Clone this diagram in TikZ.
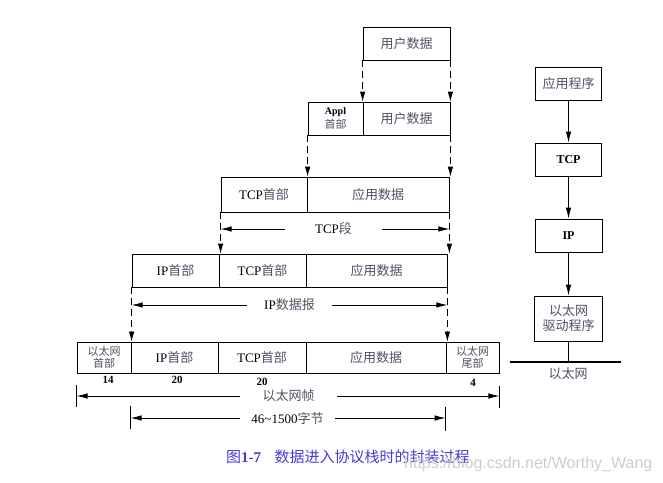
\documentclass[tikz,border=0pt]{standalone}
\usepackage{fontspec}
\setmainfont{Liberation Serif}
\newfontfamily\cjk{Noto Sans CJK SC}
\newfontfamily\wmfont{Liberation Sans}
\usetikzlibrary{arrows.meta}
\definecolor{zhcol}{RGB}{80,80,100}
\definecolor{capcol}{RGB}{70,60,215}
\definecolor{wmcol}{RGB}{205,205,205}
\newcommand{\zh}[1]{{\cjk\color{zhcol}#1}}
\begin{document}
\begin{tikzpicture}[x=1pt,y=-1pt,
  cell/.style={draw, line width=0.8pt, inner sep=0pt, align=center, font=\fontsize{13}{15}\selectfont},
  small/.style={font=\fontsize{11}{12.5}\selectfont},
  dashar/.style={line width=0.8pt, dash pattern=on 7pt off 4pt, -{Latex[length=10pt,width=5.5pt]}},
  dimar/.style={line width=0.8pt, -{Latex[length=11pt,width=5.5pt]}},
  solidar/.style={line width=0.8pt, -{Latex[length=11pt,width=5.5pt]}},
  dimlab/.style={inner sep=0pt, minimum height=14pt, font=\fontsize{13}{15}\selectfont},
  num/.style={inner sep=0pt, font=\bfseries\fontsize{11}{12}\selectfont},
  tickln/.style={line width=0.8pt}]
\useasboundingbox (0,0) rectangle (663,482);

% Row 1
\node[cell, minimum width=87, minimum height=33] (u1) at (406.5,43.5) {\zh{用户数据}};
% Row 2
\node[cell, minimum width=55, minimum height=33] (a2) at (335.5,118.5)
  {\fontsize{10}{10}\selectfont\bfseries Appl\\[-1pt]\fontsize{11}{11}\selectfont\zh{首部}};
\node[cell, minimum width=87, minimum height=33] (u2) at (406.5,118.5) {\zh{用户数据}};
% Row 3
\node[cell, minimum width=86, minimum height=35] (t3) at (264,194.5) {TCP\zh{首部}};
\node[cell, minimum width=142, minimum height=35] (d3) at (378,194.5) {\zh{应用数据}};
% Row 4
\node[cell, minimum width=87, minimum height=33] (i4) at (175.5,270.5) {IP\zh{首部}};
\node[cell, minimum width=87, minimum height=33] (t4) at (262.5,270.5) {TCP\zh{首部}};
\node[cell, minimum width=141, minimum height=33] (d4) at (376.5,270.5) {\zh{应用数据}};
% Row 5
\node[cell, small, minimum width=54, minimum height=31] (e5) at (104,357.5) {\zh{以太网}\\\zh{首部}};
\node[cell, minimum width=87, minimum height=31] (i5) at (174.5,357.5) {IP\zh{首部}};
\node[cell, minimum width=88, minimum height=31] (t5) at (262,357.5) {TCP\zh{首部}};
\node[cell, minimum width=140, minimum height=31] (d5) at (376,357.5) {\zh{应用数据}};
\node[cell, small, minimum width=53, minimum height=31] (f5) at (472.5,357.5) {\zh{以太网}\\\zh{尾部}};

% numbers
\node[num] (n14) at (108,380) {14};
\node[num] (n20a) at (177,380) {20};
\node[num] (n20b) at (262,382) {20};
\node[num] (n4) at (473,383) {4};

% dashed arrows
\draw[dashar] (u1.south west) -- (u2.north west);
\draw[dashar] (u1.south east) -- (u2.north east);
\draw[dashar] (a2.south west) -- (a2.south west |- t3.north);
\draw[dashar] (u2.south east) -- (u2.south east |- d3.north);
\draw[dashar] (t3.south west) -- (t3.south west |- i4.north);
\draw[dashar] (d3.south east) -- (d3.south east |- d4.north);
\draw[dashar] (i4.south west) -- (i4.south west |- e5.north);
\draw[dashar] (d4.south east) -- (d4.south east |- f5.north);

% dimension lines
\node[dimlab, minimum width=97] (tcpseg) at (333.5,229) {TCP\zh{段}};
\draw[dimar] (tcpseg.west) -- (tcpseg.west -| t3.south west);
\draw[dimar] (tcpseg.east) -- (tcpseg.east -| d3.south east);

\node[dimlab, minimum width=85] (ipdg) at (289.5,305) {IP\zh{数据报}};
\draw[dimar] (ipdg.west) -- (ipdg.west -| i4.south west);
\draw[dimar] (ipdg.east) -- (ipdg.east -| d4.south east);

\node[dimlab, minimum width=97] (ethfr) at (288.5,396) {\zh{以太网帧}};
\draw[dimar] (ethfr.west) -- (ethfr.west -| e5.south west);
\draw[dimar] (ethfr.east) -- (ethfr.east -| f5.south east);
\draw[tickln] (ethfr.west -| e5.south west) ++(0,-11) -- ++(0,22);
\draw[tickln] (ethfr.east -| f5.south east) ++(0,-10) -- ++(0,22);

\node[dimlab, minimum width=95] (pay) at (287.5,418) {46\textasciitilde1500\zh{字节}};
\draw[dimar] (pay.west) -- (pay.west -| i5.south west);
\draw[dimar] (pay.east) -- (pay.east -| f5.south west);
\draw[tickln] (pay.west -| i5.south west) ++(0,-12) -- ++(0,23);
\draw[tickln] (pay.east -| f5.south west) ++(0,-11) -- ++(0,24);

% right column
\node[cell, minimum width=66, minimum height=33] (app) at (568.5,83.5) {\zh{应用程序}};
\node[cell, minimum width=66, minimum height=33, font=\bfseries\fontsize{12}{14}\selectfont] (tcp) at (568.5,159.5) {TCP};
\node[cell, minimum width=67, minimum height=33, font=\bfseries\fontsize{12}{14}\selectfont] (ip) at (568.5,235.5) {IP};
\node[cell, minimum width=68, minimum height=45] (drv) at (568.5,318.5) {\zh{以太网}\\\zh{驱动程序}};
\draw[solidar] (app) -- (tcp);
\draw[solidar] (tcp) -- (ip);
\draw[solidar] (ip) -- (drv);
\node[fill, inner sep=0pt, minimum width=111, minimum height=2.5] (ethline) at (565.5,362) {};
\draw[line width=0.8pt] (drv.south) -- (drv.south |- ethline.north);
\node[inner sep=0pt, font=\fontsize{13}{15}\selectfont] (ethlab) at (568,374) {\zh{以太网}};

% caption and watermark
\node[inner sep=0pt, anchor=west, font=\fontsize{15}{17}\selectfont, text=capcol] (cap) at (226,457)
  {{\cjk 图}{\bfseries 1-7}\hspace{0.9em}{\cjk 数据进入协议栈时的封装过程}};
\node[inner sep=0pt, anchor=west, text=wmcol, font=\wmfont\fontsize{16}{18}\selectfont] (wm) at (404,464) {https://blog.csdn.net/Worthy\_Wang};
\end{tikzpicture}
\end{document}
